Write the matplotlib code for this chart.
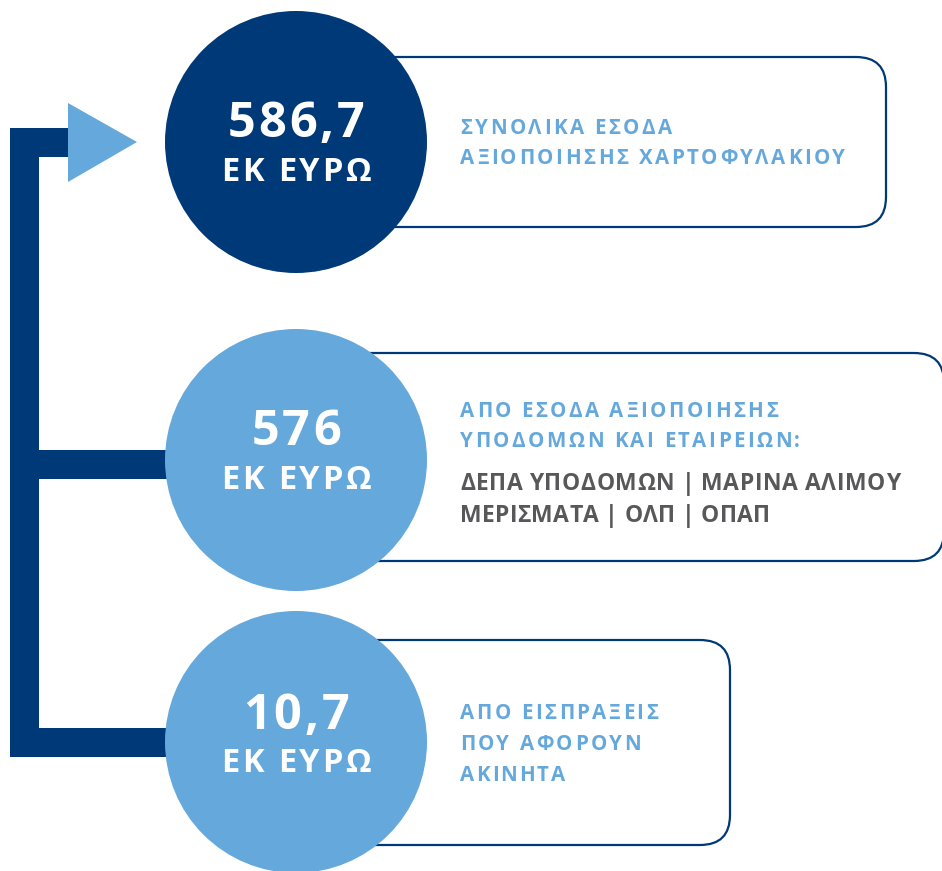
import matplotlib
matplotlib.use("Agg")
import matplotlib.pyplot as plt
from matplotlib.patches import FancyBboxPatch, Circle, Polygon, Rectangle
from matplotlib.font_manager import FontProperties, findfont
from matplotlib.ft2font import FT2Font
try:
    from matplotlib.ft2font import LoadFlags
    NOHINT = LoadFlags.NO_HINTING
except Exception:
    from matplotlib.ft2font import LOAD_NO_HINTING as NOHINT

# ---------------- data ----------------
values = ["586,7", "576", "10,7"]
units = ["ΕΚ ΕΥΡΩ", "ΕΚ ΕΥΡΩ", "ΕΚ ΕΥΡΩ"]
blue_lines = [
    ["ΣΥΝΟΛΙΚΑ ΕΣΟΔΑ", "ΑΞΙΟΠΟΙΗΣΗΣ ΧΑΡΤΟΦΥΛΑΚΙΟΥ"],
    ["ΑΠΟ ΕΣΟΔΑ ΑΞΙΟΠΟΙΗΣΗΣ", "ΥΠΟΔΟΜΩΝ ΚΑΙ ΕΤΑΙΡΕΙΩΝ:"],
    ["ΑΠΟ ΕΙΣΠΡΑΞΕΙΣ", "ΠΟΥ ΑΦΟΡΟΥΝ", "ΑΚΙΝΗΤΑ"],
]
gray_lines = [
    [],
    ["ΔΕΠΑ ΥΠΟΔΟΜΩΝ | ΜΑΡΙΝΑ ΑΛΙΜΟΥ", "ΜΕΡΙΣΜΑΤΑ | ΟΛΠ | ΟΠΑΠ"],
    [],
]

# ---------------- layout / style ----------------
W, H = 942, 871
NAVY = "#003977"
LIGHT = "#65A8DC"
GRAY = "#58585A"

circle_cx = 296
circle_cy = [142, 460, 742]
circle_r = 131
circle_colors = [NAVY, LIGHT, LIGHT]
num_y = [120, 428, 712]
unit_y = [169, 477, 760]
unit_w = 149

boxes = [(290, 57, 886, 227), (290, 353, 944, 561), (290, 640, 730, 845)]
text_x = 460
blue_y = [[127, 157], [410, 440], [712, 743, 774]]
blue_w = [[212, 385], [318, 340], [198, 181, 105]]
gray_y = [[], [482, 514], []]
gray_w = [[], [440, 310], []]

fig = plt.figure(figsize=(W / 100, H / 100), dpi=100)
ax = fig.add_axes([0, 0, 1, 1])
ax.set_xlim(0, W)
ax.set_ylim(H, 0)
ax.axis("off")


def pick_font():
    cands = ["Open Sans", "Roboto", "Inter", "Noto Sans", "Lato", "Liberation Sans", "DejaVu Sans"]
    for c in cands:
        try:
            p = findfont(FontProperties(family=c, weight="bold"), fallback_to_default=False)
        except Exception:
            continue
        if "bold" not in p.lower():
            continue
        try:
            f = FT2Font(p)
            if f.get_char_index(ord("Ω")) == 0:
                continue
        except Exception:
            continue
        return c, p
    p = findfont(FontProperties(family="DejaVu Sans", weight="bold"))
    return "DejaVu Sans", p


FAMILY, FPATH = pick_font()
fp = FontProperties(fname=FPATH)
font = FT2Font(FPATH)


def advances(s, size):
    font.set_size(size, 100)
    out = []
    for ch in s:
        g = font.load_char(ord(ch), flags=NOHINT)
        out.append(g.linearHoriAdvance / 65536.0)
    return out


def tracked(s, x0, ycenter, size, color, width=None, track=2.0, center=False):
    adv = advances(s, size)
    n = len(s)
    if width is not None:
        track = (width - sum(adv)) / max(n - 1, 1)
    total = sum(adv) + track * (n - 1)
    if center:
        x0 = x0 - total / 2
    cap = 0.714 * size * 100 / 72
    base = ycenter + cap / 2
    x = x0
    for ch, a in zip(s, adv):
        if ch != " ":
            ax.text(x + a / 2, base, ch, fontproperties=fp, fontsize=size,
                    color=color, ha="center", va="baseline", zorder=10)
        x += a + track


# bracket
ax.add_patch(Rectangle((10, 128), 29, 629, color=NAVY, lw=0, zorder=1))
ax.add_patch(Rectangle((10, 128), 60, 29, color=NAVY, lw=0, zorder=1))
ax.add_patch(Rectangle((39, 450), 170, 29, color=NAVY, lw=0, zorder=1))
ax.add_patch(Rectangle((10, 728), 199, 29, color=NAVY, lw=0, zorder=1))
ax.add_patch(Polygon([(68, 103), (68, 182), (137, 142)], closed=True,
                     color=LIGHT, lw=0, zorder=2))

# boxes
for (x1, y1, x2, y2) in boxes:
    ax.add_patch(FancyBboxPatch((x1, y1), x2 - x1, y2 - y1,
                                boxstyle="round,pad=0,rounding_size=30",
                                fc="white", ec=NAVY, lw=1.6, zorder=3))

# circles
for cy, col in zip(circle_cy, circle_colors):
    ax.add_patch(Circle((circle_cx, cy), circle_r, color=col, lw=0, zorder=5))

# circle texts
for i in range(3):
    tracked(values[i], circle_cx, num_y[i], 35, "white", track=3.0, center=True)
    tracked(units[i], circle_cx, unit_y[i], 23.5, "white", width=unit_w, center=True)

# descriptions
for i in range(3):
    for s, y, w in zip(blue_lines[i], blue_y[i], blue_w[i]):
        tracked(s, text_x, y, 14.8, LIGHT, width=w)
    for s, y, w in zip(gray_lines[i], gray_y[i], gray_w[i]):
        tracked(s, text_x, y, 16.5, GRAY, width=w)

fig.savefig("out.png", dpi=100, facecolor="white")
